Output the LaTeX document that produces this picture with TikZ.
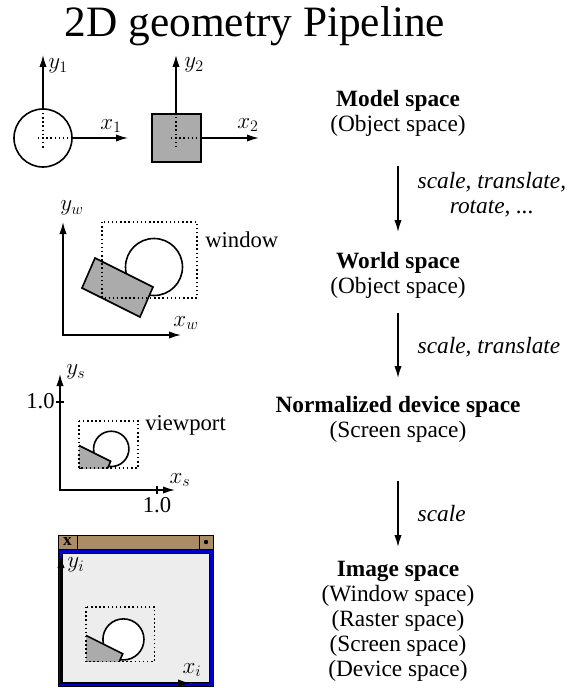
\documentclass[tikz,border=0pt]{standalone}
\usepackage[no-math]{fontspec}
\setmainfont{Liberation Serif}
\usetikzlibrary{arrows.meta,positioning}

\definecolor{barbrown}{RGB}{170,141,100}
\definecolor{winblue}{RGB}{0,0,205}

% circle and tilted box, given in world (window) coordinates
\newcommand{\worldscene}{%
  \draw[outline, fill=white] (154,267) circle[radius=28.5];
  \draw[outline, fill=black!33] (95,258) -- (153,287) -- (140,317) -- (82,288) -- cycle;
}

\begin{document}
\begin{tikzpicture}[
     % define styles
     x=0.75pt, y=-0.75pt,
     outline/.style={draw, line width=1.2pt},
     frame/.style={dotted, line width=1.1pt},
     axis/.style={->, line width=1.2pt},
     lbl/.style={inner sep=0pt, font=\fontsize{17}{19}\selectfont},
     space/.style={inner sep=0pt, align=center, anchor=north,
         font=\fontsize{17.5}{18.75}\selectfont},
     flow/.style={->, line width=1pt},
     how/.style={inner sep=0pt, align=center, font=\fontsize{17.5}{18.75}\selectfont\itshape},
     >={Latex[length=9pt,width=5.5pt]}
]
\useasboundingbox (0,0) rectangle (569,688);

\node[anchor=base, font=\fontsize{32.5}{36}\selectfont] (title) at (255,37) {2D geometry Pipeline};

% model space: circle and square with own axes
\draw[outline] (43,138) circle[radius=29];
\draw[frame] (38,138) -- (68,138) (43,113) -- (43,148);
\draw[axis] (43,109) -- (43,55);
\draw[axis] (72,138) -- (128,138);
\node[lbl] (y1) at (58,66) {$y_1$};
\node[lbl] (x1) at (111,126) {$x_1$};

\draw[outline, fill=black!33] (152,114) rectangle (201,162);
\draw[frame] (171,138) -- (198,138) (176,117) -- (176,150);
\draw[axis] (176,114) -- (176,55);
\draw[axis] (201,138) -- (259,138);
\node[lbl] (y2) at (194,65) {$y_2$};
\node[lbl] (x2) at (248,125) {$x_2$};

% world space
\draw[axis, <->] (63,222) -- (63,335) -- (181,335);
\node[lbl] (yw) at (72,208) {$y_w$};
\node[lbl] (xw) at (186,323) {$x_w$};
\worldscene
\draw[frame] (102,222) rectangle (197,298);
\node[lbl, anchor=west] (window) at (205,240) {window};

% normalized device space
\draw[axis, <->] (60,374) -- (60,490) -- (175,490);
\draw[line width=1pt] (56,402) -- (64,402) (157,486) -- (157,494);
\node[lbl, anchor=east] (ytick) at (55,401) {1.0};
\node[lbl, anchor=north] (xtick) at (157,497) {1.0};
\node[lbl] (ys) at (76,372) {$y_s$};
\node[lbl] (xs) at (180,480) {$x_s$};
\begin{scope}[shift={(79,421)}, scale=0.62, shift={(-102,-222)}]
  \begin{scope}
    \clip (102,222) rectangle (197,298);
    \worldscene
  \end{scope}
  \draw[frame] (102,222) rectangle (197,298);
\end{scope}
\node[lbl, anchor=west] (viewport) at (145,425) {viewport};

% image space: a window on screen
\draw[fill=barbrown] (58,535) rectangle (213,549);
\draw[fill=barbrown] (58,535) rectangle (77,549);
\draw[fill=barbrown] (199,535) rectangle (213,549);
\node[inner sep=0pt, font=\fontsize{13}{13}\selectfont\bfseries] (close) at (67.5,542) {x};
\fill (206,542) circle[radius=2.2];
\draw[fill=winblue] (58,549) rectangle (213,686);
\draw[fill=black!7] (62,553) rectangle (209,682);
\draw[axis, <->] (61,556) -- (61,683) -- (190,683);
\node[lbl] (yi) at (76,565) {$y_i$};
\node[lbl] (xi) at (192,670) {$x_i$};
\begin{scope}[shift={(86,607)}, scale=0.72, shift={(-102,-222)}]
  \begin{scope}
    \clip (102,222) rectangle (197,298);
    \worldscene
  \end{scope}
  \draw[frame] (102,222) rectangle (197,298);
\end{scope}

% the chain of spaces
\node[space] (model) at (398,90) {\textbf{Model space}\\(Object space)};
\node[space] (world) at (398,252) {\textbf{World space}\\(Object space)};
\node[space] (ndc) at (398,396) {\textbf{Normalized device space}\\(Screen space)};
\node[space] (image) at (398,561) {\textbf{Image space}\\(Window space)\\(Raster space)\\(Screen space)\\(Device space)};

\draw[flow, shorten <=21.75pt, shorten >=15pt] (model) -- node[how, right=14.25pt] (m2w) {scale, translate,\\rotate, ...} (world);
\draw[flow, shorten <=10.5pt, shorten >=13.5pt] (world) -- node[how, right=14.25pt] (w2n) {scale, translate} (ndc);
\draw[flow, shorten <=28.5pt, shorten >=10.5pt] (ndc) -- node[how, right=14.25pt, pos=0.6] (n2i) {scale} (image);

\end{tikzpicture}
\end{document}
